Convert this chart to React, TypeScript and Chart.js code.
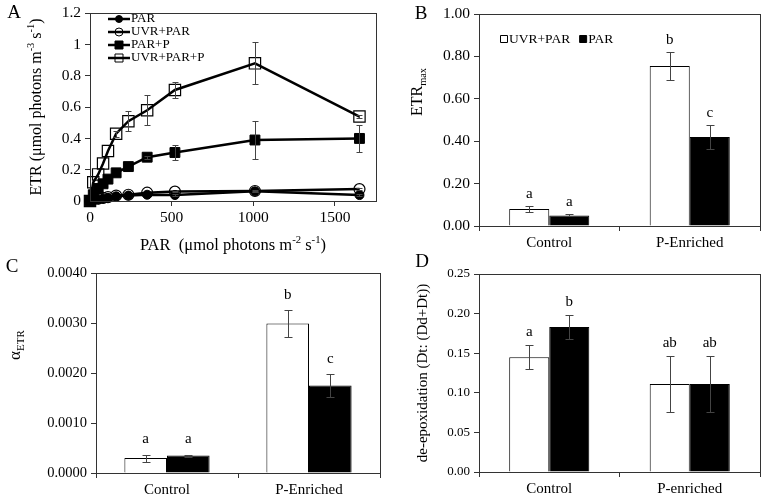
import React, { useEffect, useRef } from 'react';
import { Chart, registerables } from 'chart.js';

Chart.register(...registerables);

const SERIF = '"Liberation Serif", "Times New Roman", Times, serif';
Chart.defaults.font.family = SERIF;
Chart.defaults.color = '#000';

// ---------- Panel A: ETR vs PAR ----------
const PAR_LEVELS = [0, 20, 50, 80, 110, 160, 235, 350, 520, 1010, 1650];
const ETR_PAR = [0, 0.005, 0.01, 0.015, 0.02, 0.03, 0.035, 0.04, 0.038, 0.062, 0.038];
const ETR_UVR_PAR = [0, 0.01, 0.015, 0.02, 0.025, 0.035, 0.04, 0.053, 0.06, 0.064, 0.076];
const ETR_PAR_P = [0, 0.04, 0.08, 0.11, 0.14, 0.18, 0.22, 0.28, 0.31, 0.39, 0.4];
const ETR_UVR_PAR_P = [0, 0.12, 0.17, 0.24, 0.32, 0.43, 0.51, 0.58, 0.71, 0.88, 0.54];
const ERR_PAR = [0, 0, 0, 0, 0, 0, 0, 0, 0.004, 0.005, 0.004];
const ERR_UVR_PAR = [0, 0, 0, 0, 0, 0, 0, 0, 0.004, 0.005, 0.005];
const ERR_PAR_P = [0, 0, 0, 0, 0, 0, 0, 0.01, 0.045, 0.12, 0.085];
const ERR_UVR_PAR_P = [0, 0, 0, 0, 0, 0.02, 0.065, 0.095, 0.05, 0.135, 0.01];
const A_X_TICKS = [0, 500, 1000, 1500];
const A_SERIES = ['PAR', 'UVR+PAR', 'PAR+P', 'UVR+PAR+P'];

// ---------- Panel B: ETRmax ----------
const TREATMENTS = ['Control', 'P-Enriched'];
const BAR_SERIES = ['UVR+PAR', 'PAR'];
const ETRMAX_UVR = [0.08, 0.755];
const ETRMAX_UVR_ERR = [0.015, 0.065];
const ETRMAX_UVR_LET = ['a', 'b'];
const ETRMAX_PAR = [0.05, 0.42];
const ETRMAX_PAR_ERR = [0.005, 0.055];
const ETRMAX_PAR_LET = ['a', 'c'];

// ---------- Panel C: alpha ETR ----------
const ALPHA_UVR = [0.0003, 0.00299];
const ALPHA_UVR_ERR = [0.00007, 0.00027];
const ALPHA_UVR_LET = ['a', 'b'];
const ALPHA_PAR = [0.00035, 0.00175];
const ALPHA_PAR_ERR = [0.00002, 0.00023];
const ALPHA_PAR_LET = ['a', 'c'];

// ---------- Panel D: de-epoxidation ----------
const TREATMENTS_D = ['Control', 'P-enriched'];
const DEEP_UVR = [0.145, 0.111];
const DEEP_UVR_ERR = [0.015, 0.035];
const DEEP_UVR_LET = ['a', 'ab'];
const DEEP_PAR = [0.183, 0.111];
const DEEP_PAR_ERR = [0.015, 0.035];
const DEEP_PAR_LET = ['b', 'ab'];

type Seg = { t: string; s?: 'sup' | 'sub' };

const A_Y_TITLE: Seg[] = [{ t: 'ETR (μmol photons m' }, { t: '-3', s: 'sup' }, { t: ' s' }, { t: '-1', s: 'sup' }, { t: ')' }];
const A_X_TITLE: Seg[] = [{ t: 'PAR  (μmol photons m' }, { t: '-2', s: 'sup' }, { t: ' s' }, { t: '-1', s: 'sup' }, { t: ')' }];
const B_Y_TITLE: Seg[] = [{ t: 'ETR' }, { t: 'max', s: 'sub' }];
const C_Y_TITLE: Seg[] = [{ t: 'α' }, { t: 'ETR', s: 'sub' }];
const D_Y_TITLE: Seg[] = [{ t: 'de-epoxidation (Dt: (Dd+Dt))' }];

function drawRich(ctx: CanvasRenderingContext2D, segs: Seg[], x: number, y: number, size: number, rot: number) {
  ctx.save();
  ctx.translate(x, y);
  ctx.rotate(rot);
  const small = size * 0.65;
  const widths = segs.map((sg) => {
    ctx.font = `${sg.s ? small : size}px ${SERIF}`;
    return ctx.measureText(sg.t).width;
  });
  const total = widths.reduce((a, b) => a + b, 0);
  let cx = -total / 2;
  ctx.textBaseline = 'middle';
  ctx.textAlign = 'left';
  ctx.fillStyle = '#000';
  segs.forEach((sg, i) => {
    ctx.font = `${sg.s ? small : size}px ${SERIF}`;
    const dy = sg.s === 'sup' ? -size * 0.33 : sg.s === 'sub' ? size * 0.3 : 0;
    ctx.fillText(sg.t, cx, dy);
    cx += widths[i];
  });
  ctx.restore();
}

function drawText(ctx: CanvasRenderingContext2D, t: string, x: number, y: number, size: number, align: CanvasTextAlign = 'center') {
  ctx.save();
  ctx.font = `${size}px ${SERIF}`;
  ctx.fillStyle = '#000';
  ctx.textAlign = align;
  ctx.textBaseline = 'middle';
  ctx.fillText(t, x, y);
  ctx.restore();
}

interface ExtraCfg {
  errors: number[][];
  cap: number;
  letters?: string[][];
  letterOffset?: number;
  letterSize?: number;
  draw?: (chart: any, ctx: CanvasRenderingContext2D) => void;
}

function extrasPlugin(cfg: ExtraCfg) {
  return {
    id: 'extras',
    afterDatasetsDraw(chart: any) {
      const ctx: CanvasRenderingContext2D = chart.ctx;
      const ys = chart.scales.y;
      ctx.save();
      chart.data.datasets.forEach((ds: any, di: number) => {
        const errs = cfg.errors[di];
        const meta = chart.getDatasetMeta(di);
        meta.data.forEach((el: any, i: number) => {
          const raw = ds.data[i];
          const v = typeof raw === 'number' ? raw : raw.y;
          const e = errs ? errs[i] : 0;
          const x = Math.round(el.x) + 0.5;
          if (e > 0) {
            const yt = Math.round(ys.getPixelForValue(v + e)) + 0.5;
            const yb = Math.round(ys.getPixelForValue(v - e)) + 0.5;
            ctx.strokeStyle = '#444';
            ctx.lineWidth = 1;
            ctx.beginPath();
            ctx.moveTo(x, yt);
            ctx.lineTo(x, yb);
            ctx.moveTo(x - cfg.cap / 2, yt);
            ctx.lineTo(x + cfg.cap / 2, yt);
            ctx.moveTo(x - cfg.cap / 2, yb);
            ctx.lineTo(x + cfg.cap / 2, yb);
            ctx.stroke();
          }
          if (cfg.letters && cfg.letters[di]) {
            const yl = ys.getPixelForValue(v + e) - (cfg.letterOffset ?? 12);
            drawText(ctx, cfg.letters[di][i], el.x, yl, cfg.letterSize ?? 15);
          }
        });
      });
      const a = chart.chartArea;
      ctx.strokeStyle = '#333';
      ctx.lineWidth = 1;
      ctx.strokeRect(Math.round(a.left) + 0.5, Math.round(a.top) + 0.5, Math.round(a.right - a.left), Math.round(a.bottom - a.top));
      if (cfg.draw) cfg.draw(chart, ctx);
      ctx.restore();
    },
  };
}

function axisCommon(size: number, fit: (s: any) => void) {
  return {
    ticks: { font: { family: SERIF, size }, color: '#000', padding: 3, maxRotation: 0 },
    grid: { drawOnChartArea: false, drawTicks: true, tickLength: 5, color: '#333' },
    border: { display: true, color: '#333', width: 1 },
    afterFit: fit,
  };
}

function makeA(): any {
  const pts = (arr: number[]) => PAR_LEVELS.map((x, i) => ({ x, y: arr[i] }));
  const base = { borderColor: '#000', borderWidth: 2.5, pointBorderColor: '#000', clip: false, tension: 0 };
  return {
    type: 'line',
    data: {
      datasets: [
        { ...base, label: A_SERIES[0], data: pts(ETR_PAR), pointStyle: 'circle', pointRadius: 4.5, pointBackgroundColor: '#000', pointBorderWidth: 1 },
        { ...base, label: A_SERIES[1], data: pts(ETR_UVR_PAR), pointStyle: 'circle', pointRadius: 5.5, pointBackgroundColor: 'rgba(0,0,0,0)', pointBorderWidth: 1.2 },
        { ...base, label: A_SERIES[2], data: pts(ETR_PAR_P), pointStyle: 'rect', pointRadius: 7, pointBackgroundColor: '#000', pointBorderWidth: 1 },
        { ...base, label: A_SERIES[3], data: pts(ETR_UVR_PAR_P), pointStyle: 'rect', pointRadius: 8, pointBackgroundColor: 'rgba(0,0,0,0)', pointBorderWidth: 1.2 },
      ],
    },
    options: {
      animation: false,
      responsive: false,
      devicePixelRatio: 1,
      layout: { padding: { top: 12, right: 5, left: 0, bottom: 0 } },
      plugins: { legend: { display: false }, tooltip: { enabled: false } },
      scales: {
        x: {
          type: 'linear',
          min: 0,
          max: 1750,
          ...axisCommon(15, (s: any) => { s.height = 54; }),
          ticks: { font: { family: SERIF, size: 15.5 }, color: '#000', padding: 3, maxRotation: 0, callback: (v: any) => String(v) },
          afterBuildTicks: (s: any) => { s.ticks = A_X_TICKS.map((v) => ({ value: v })); },
        },
        y: {
          min: 0,
          max: 1.2,
          ...axisCommon(15, (s: any) => { s.width = 90; }),
          ticks: {
            font: { family: SERIF, size: 15.5 },
            color: '#000',
            padding: 4,
            stepSize: 0.2,
            callback: (v: any) => String(Math.round(Number(v) * 10) / 10),
          },
        },
      },
    },
    plugins: [
      extrasPlugin({
        errors: [ERR_PAR, ERR_UVR_PAR, ERR_PAR_P, ERR_UVR_PAR_P],
        cap: 6,
        draw: (chart, ctx) => {
          drawText(ctx, 'A', 14, 13, 19);
          drawRich(ctx, A_Y_TITLE, 37, 107, 16, -Math.PI / 2);
          drawRich(ctx, A_X_TITLE, 233, 246, 16.5, 0);
          chart.data.datasets.forEach((ds: any, i: number) => {
            const y = 19 + i * 13;
            ctx.strokeStyle = '#000';
            ctx.lineWidth = 2.5;
            ctx.beginPath();
            ctx.moveTo(108, y);
            ctx.lineTo(130, y);
            ctx.stroke();
            const filled = ds.pointBackgroundColor === '#000';
            ctx.beginPath();
            if (ds.pointStyle === 'circle') ctx.arc(119, y, filled ? 3.5 : 4, 0, Math.PI * 2);
            else ctx.rect(115, y - 4, 8, 8);
            if (filled) { ctx.fillStyle = '#000'; ctx.fill(); }
            ctx.lineWidth = 1;
            ctx.stroke();
            drawText(ctx, ds.label, 131, y, 13, 'left');
          });
        },
      }),
    ],
  };
}

function makeBar(opts: {
  labels: string[];
  white: number[];
  black: number[];
  errs: number[][];
  letters: string[][];
  max: number;
  step: number;
  decimals: number;
  tickSize: number;
  pad: { top: number; right: number };
  yWidth: number;
  xHeight: number;
  catPct: number;
  letterOffset: number;
  draw: (chart: any, ctx: CanvasRenderingContext2D) => void;
}): any {
  return {
    type: 'bar',
    data: {
      labels: opts.labels,
      datasets: [
        { label: BAR_SERIES[0], data: opts.white, backgroundColor: '#fff', borderColor: '#000', borderWidth: 1, categoryPercentage: opts.catPct, barPercentage: 1 },
        { label: BAR_SERIES[1], data: opts.black, backgroundColor: '#000', borderColor: '#000', borderWidth: 1, categoryPercentage: opts.catPct, barPercentage: 1 },
      ],
    },
    options: {
      animation: false,
      responsive: false,
      devicePixelRatio: 1,
      layout: { padding: { top: opts.pad.top, right: opts.pad.right, left: 0, bottom: 0 } },
      plugins: { legend: { display: false }, tooltip: { enabled: false } },
      scales: {
        x: {
          ...axisCommon(15, (s: any) => { s.height = opts.xHeight; }),
          grid: { drawOnChartArea: false, drawTicks: true, tickLength: 5, color: '#333', offset: true },
        },
        y: {
          min: 0,
          max: opts.max,
          ...axisCommon(opts.tickSize, (s: any) => { s.width = opts.yWidth; }),
          ticks: {
            font: { family: SERIF, size: opts.tickSize },
            color: '#000',
            padding: 4,
            stepSize: opts.step,
            callback: (v: any) => Number(v).toFixed(opts.decimals),
          },
        },
      },
    },
    plugins: [
      extrasPlugin({ errors: opts.errs, cap: 8, letters: opts.letters, letterOffset: opts.letterOffset, letterSize: 15, draw: opts.draw }),
    ],
  };
}

function makeB(): any {
  return makeBar({
    labels: TREATMENTS,
    white: ETRMAX_UVR,
    black: ETRMAX_PAR,
    errs: [ETRMAX_UVR_ERR, ETRMAX_PAR_ERR],
    letters: [ETRMAX_UVR_LET, ETRMAX_PAR_LET],
    max: 1,
    step: 0.2,
    decimals: 2,
    tickSize: 15.5,
    pad: { top: 14, right: 3 },
    yWidth: 94,
    xHeight: 29,
    catPct: 0.57,
    letterOffset: 12,
    draw: (chart, ctx) => {
      drawText(ctx, 'B', 36, 14, 19);
      drawRich(ctx, B_Y_TITLE, 33, 92, 16, -Math.PI / 2);
      let x = 115;
      const y = 39;
      chart.data.datasets.forEach((ds: any) => {
        ctx.beginPath();
        ctx.rect(x + 0.5, y - 3.5, 7, 7);
        ctx.fillStyle = ds.backgroundColor;
        ctx.fill();
        ctx.strokeStyle = '#000';
        ctx.lineWidth = 1;
        ctx.stroke();
        drawText(ctx, ds.label, x + 9, y, 13.5, 'left');
        ctx.font = `13.5px ${SERIF}`;
        x += 9 + ctx.measureText(ds.label).width + 9;
      });
    },
  });
}

function makeC(): any {
  return makeBar({
    labels: TREATMENTS,
    white: ALPHA_UVR,
    black: ALPHA_PAR,
    errs: [ALPHA_UVR_ERR, ALPHA_PAR_ERR],
    letters: [ALPHA_UVR_LET, ALPHA_PAR_LET],
    max: 0.004,
    step: 0.001,
    decimals: 4,
    tickSize: 14.5,
    pad: { top: 28, right: 5 },
    yWidth: 96,
    xHeight: 25,
    catPct: 0.6,
    letterOffset: 15,
    draw: (chart, ctx) => {
      drawText(ctx, 'C', 12, 22, 19);
      drawRich(ctx, C_Y_TITLE, 16, 100, 17, -Math.PI / 2);
    },
  });
}

function makeD(): any {
  return makeBar({
    labels: TREATMENTS_D,
    white: DEEP_UVR,
    black: DEEP_PAR,
    errs: [DEEP_UVR_ERR, DEEP_PAR_ERR],
    letters: [DEEP_UVR_LET, DEEP_PAR_LET],
    max: 0.25,
    step: 0.05,
    decimals: 2,
    tickSize: 13,
    pad: { top: 29, right: 3 },
    yWidth: 94,
    xHeight: 26,
    catPct: 0.57,
    letterOffset: 13,
    draw: (chart, ctx) => {
      drawText(ctx, 'D', 37, 17, 19);
      drawRich(ctx, D_Y_TITLE, 38, 128, 15, -Math.PI / 2);
    },
  });
}

function Panel({ make, left, top, w, h }: { make: () => any; left: number; top: number; w: number; h: number }) {
  const ref = useRef<HTMLCanvasElement>(null);
  useEffect(() => {
    const chart = new Chart(ref.current as HTMLCanvasElement, make());
    return () => chart.destroy();
  }, [make]);
  return (
    <div style={{ position: 'absolute', left, top, width: w, height: h }}>
      <canvas ref={ref} width={w} height={h} style={{ display: 'block' }} />
    </div>
  );
}

export default function App() {
  useEffect(() => {
    document.body.style.margin = '0';
    document.body.style.background = '#fff';
  }, []);
  return (
    <div style={{ position: 'relative', width: 763, height: 498, background: '#fff', overflow: 'hidden' }}>
      <Panel make={makeA} left={0} top={0} w={385} h={255} />
      <Panel make={makeB} left={385} top={0} w={378} h={255} />
      <Panel make={makeC} left={0} top={245} w={385} h={253} />
      <Panel make={makeD} left={385} top={245} w={378} h={253} />
    </div>
  );
}
